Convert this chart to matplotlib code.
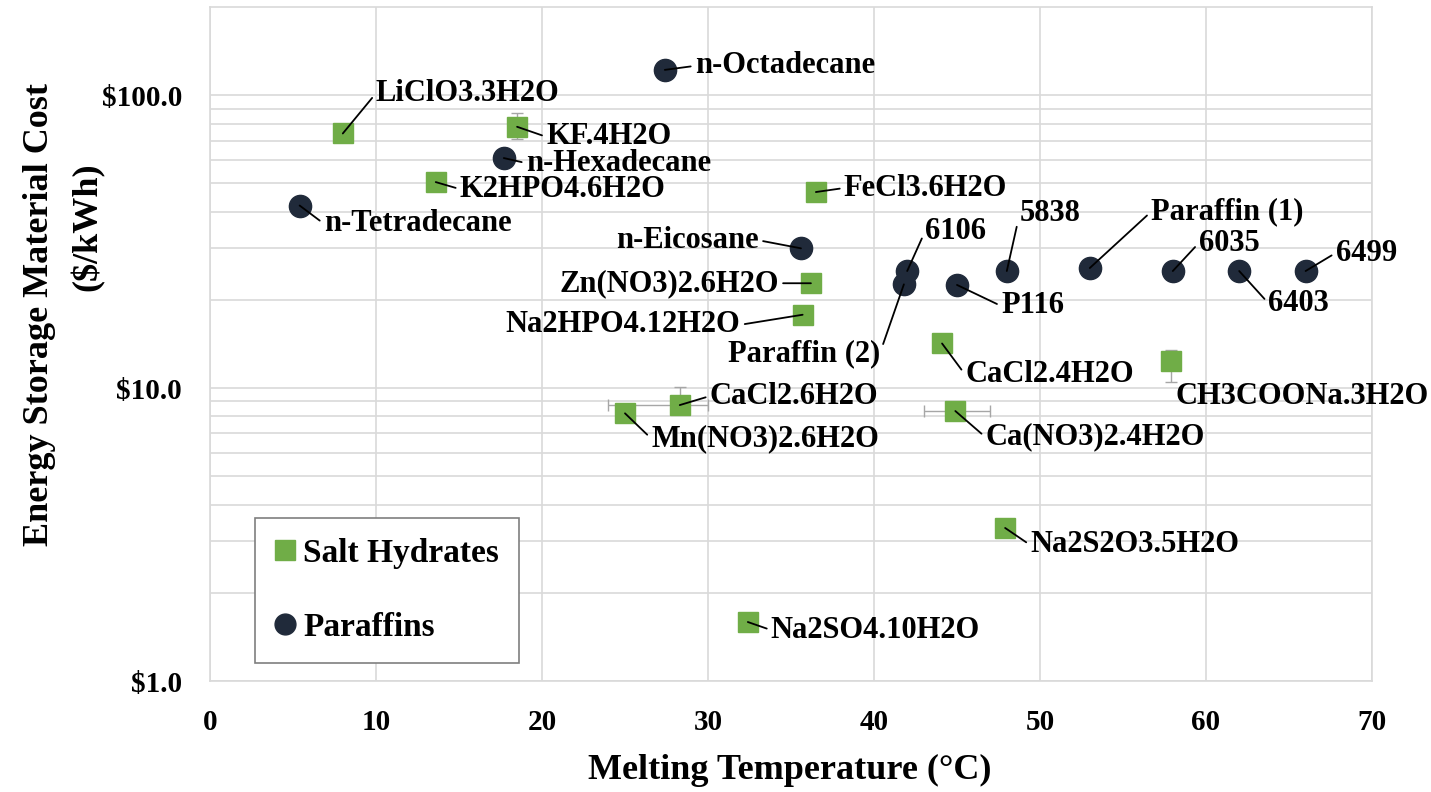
import matplotlib
matplotlib.use("Agg")
import matplotlib.pyplot as plt
from matplotlib.lines import Line2D
from matplotlib.ticker import FixedLocator, FuncFormatter, NullFormatter
import numpy as np

plt.rcParams["font.family"] = ["Liberation Serif", "DejaVu Serif"]
plt.rcParams["font.weight"] = "bold"

# salt hydrates
salt_names = ["LiClO3.3H2O", "KF.4H2O", "K2HPO4.6H2O", "FeCl3.6H2O", "Zn(NO3)2.6H2O",
              "Na2HPO4.12H2O", "CaCl2.4H2O", "CH3COONa.3H2O", "CaCl2.6H2O",
              "Mn(NO3)2.6H2O", "Ca(NO3)2.4H2O", "Na2S2O3.5H2O", "Na2SO4.10H2O"]
salt_temp = [8.0, 18.5, 13.6, 36.5, 36.2, 35.7, 44.1, 57.9, 28.3, 25.0, 44.9, 47.9, 32.4]
salt_cost = [74, 78, 50.5, 46.7, 22.8, 17.8, 14.2, 12.4, 8.75, 8.2, 8.35, 3.33, 1.59]
salt_xerr_lo = [0, 0, 0, 0, 0, 0, 0, 0, 4.3, 0, 1.9, 0, 0]
salt_xerr_hi = [0, 0, 0, 0, 0, 0, 0, 0, 1.7, 0, 2.1, 0, 0]
salt_yerr_lo = [0, 7.4, 0, 0, 0, 0, 0, 1.9, 0, 0, 0, 0, 0]
salt_yerr_hi = [0, 9.0, 0, 0, 0, 0, 0, 1.1, 1.35, 0, 0, 0, 0]

# paraffins
par_names = ["n-Octadecane", "n-Hexadecane", "n-Tetradecane", "n-Eicosane", "6106",
             "Paraffin (2)", "P116", "5838", "Paraffin (1)", "6035", "6403", "6499"]
par_temp = [27.4, 17.7, 5.4, 35.6, 42.0, 41.8, 45.0, 48.0, 53.0, 58.0, 62.0, 66.0]
par_cost = [122, 61, 42, 30, 25.1, 22.6, 22.5, 25.1, 25.7, 25.1, 25.1, 25.1]

# label placement (offset in pixels, alignment, leader line)
salt_offsets = [(33, 40, "left"), (29, -10, "left"), (24, -7, "left"), (28, 4, "left"),
                (-32, 0, "right"), (-62, -10, "right"), (23, -31, "left"), (4, -36, "left"),
                (30, 9, "left"), (26, -25, "left"), (30, -26, "left"), (25, -17, "left"),
                (23, -8, "left")]
salt_leader = [True] * 7 + [False] + [True] * 5
par_offsets = [(30, 4, "left"), (22, -5, "left"), (24, -18, "left"), (-42, 8, "right"),
               (18, 40, "left"), (-24, -69, "right"), (44, -21, "left"), (13, 58, "left"),
               (61, 56, "left"), (26, 28, "left"), (29, -32, "left"), (30, 18, "left")]

green = "#70AD47"
dark = "#202A3A"
gridc = "#D9D9D9"

fig = plt.figure(figsize=(14.31, 7.92), dpi=100)
ax = fig.add_axes([210 / 1431, 1 - 681 / 792, 1162 / 1431, 674 / 792])

ax.set_yscale("log")
ax.set_xlim(0, 70)
ax.set_ylim(1, 200)

ax.errorbar(salt_temp, salt_cost,
            xerr=[salt_xerr_lo, salt_xerr_hi], yerr=[salt_yerr_lo, salt_yerr_hi],
            fmt="none", ecolor="#A6A6A6", elinewidth=1, capsize=4, zorder=2)
ax.plot(salt_temp, salt_cost, "s", color=green, markersize=14.5, zorder=3)
ax.plot(par_temp, par_cost, "o", color=dark, markersize=16, zorder=3)


def label(names, xs, ys, offsets, leaders):
    for n, x, y, off, lead in zip(names, xs, ys, offsets, leaders):
        dx, dy, ha = off
        props = None
        if lead:
            props = dict(arrowstyle="-", color="black", lw=1.3, shrinkA=1, shrinkB=0,
                         relpos=(0, 0.5) if ha == "left" else (1, 0.5))
        ax.annotate(n, (x, y), xytext=(dx, dy), textcoords="offset pixels",
                    ha=ha, va="center", fontsize=22, fontweight="bold",
                    arrowprops=props, zorder=5)


label(salt_names, salt_temp, salt_cost, salt_offsets, salt_leader)
label(par_names, par_temp, par_cost, par_offsets, [True] * len(par_names))

# grid and axes
ax.set_xticks(np.arange(0, 71, 10))
ax.yaxis.set_major_locator(FixedLocator([1, 10, 100]))
minors = [m * d for d in (1, 10, 100) for m in range(2, 10) if m * d < 200]
ax.yaxis.set_minor_locator(FixedLocator(minors))
ax.yaxis.set_major_formatter(FuncFormatter(lambda v, p: "${:.1f}".format(v)))
ax.yaxis.set_minor_formatter(NullFormatter())
ax.grid(True, which="both", color=gridc, lw=1.2)
ax.set_axisbelow(True)
for s in ax.spines.values():
    s.set_color(gridc)
    s.set_linewidth(1.2)
ax.tick_params(which="both", length=0, labelsize=21)
ax.tick_params(axis="y", pad=20)
ax.tick_params(axis="x", pad=20)
for t in ax.get_xticklabels() + ax.get_yticklabels():
    t.set_fontweight("bold")

fig.text(790 / 1431, 1 - 770 / 792, "Melting Temperature (°C)", ha="center", va="center",
         fontsize=26, fontweight="bold")
fig.text(40 / 1431, 1 - 314 / 792, "Energy Storage Material Cost", rotation=90,
         ha="center", va="center", fontsize=26, fontweight="bold")
fig.text(88 / 1431, 1 - 227 / 792, "($/kWh)", rotation=90,
         ha="center", va="center", fontsize=26, fontweight="bold")

handles = [Line2D([], [], ls="none", marker="s", color=green, markersize=14),
           Line2D([], [], ls="none", marker="o", color=dark, markersize=15)]
leg = ax.legend(handles, ["Salt Hydrates", "Paraffins"], loc="lower left",
                bbox_to_anchor=(45 / 1162, 18 / 674), borderaxespad=0,
                prop=dict(size=24, weight="bold"),
                labelspacing=1.3, handlelength=0.6, handletextpad=0.25,
                borderpad=0.6, fancybox=False, framealpha=1)
leg.get_frame().set_edgecolor("#7F7F7F")
leg.get_frame().set_linewidth(1.2)

fig.savefig("out.png", dpi=100)
